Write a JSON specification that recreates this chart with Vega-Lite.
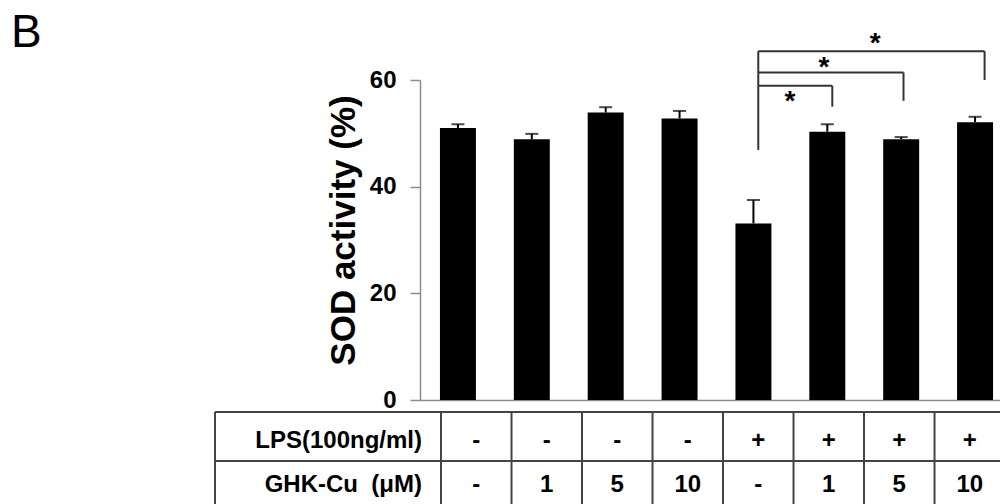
{
  "$schema": "https://vega.github.io/schema/vega-lite/v6.json",
  "width": 593,
  "height": 320,
  "autosize": "none",
  "padding": {"left": 420, "top": 80, "right": 0, "bottom": 104},
  "background": "white",
  "config": {"view": {"stroke": null}, "font": "Liberation Sans"},
  "title": {"text": "B", "anchor": "start", "frame": "group", "fontSize": 46, "fontWeight": "normal", "font": "Liberation Sans", "color": "black", "dx": -409, "dy": 31},
  "datasets": {
    "bars": [
      {"group": 1, "lps": "-", "ghk": "-", "sod": 51.0, "hi": 51.7},
      {"group": 2, "lps": "-", "ghk": "1", "sod": 48.9, "hi": 49.9},
      {"group": 3, "lps": "-", "ghk": "5", "sod": 53.9, "hi": 54.9},
      {"group": 4, "lps": "-", "ghk": "10", "sod": 52.8, "hi": 54.2},
      {"group": 5, "lps": "+", "ghk": "-", "sod": 33.1, "hi": 37.5},
      {"group": 6, "lps": "+", "ghk": "1", "sod": 50.3, "hi": 51.7},
      {"group": 7, "lps": "+", "ghk": "5", "sod": 48.9, "hi": 49.3},
      {"group": 8, "lps": "+", "ghk": "10", "sod": 52.1, "hi": 53.1}
    ],
    "tableLines": [
      {"x": -2.706, "x2": 9.5, "y": -2.25, "y2": -2.25},
      {"x": -2.706, "x2": 9.5, "y": -11.44, "y2": -11.44},
      {"x": -2.706, "x2": -2.706, "y": -2.25, "y2": -25},
      {"x": 0.5, "x2": 0.5, "y": -2.25, "y2": -25},
      {"x": 1.5, "x2": 1.5, "y": -2.25, "y2": -25},
      {"x": 2.5, "x2": 2.5, "y": -2.25, "y2": -25},
      {"x": 3.5, "x2": 3.5, "y": -2.25, "y2": -25},
      {"x": 4.5, "x2": 4.5, "y": -2.25, "y2": -25},
      {"x": 5.5, "x2": 5.5, "y": -2.25, "y2": -25},
      {"x": 6.5, "x2": 6.5, "y": -2.25, "y2": -25},
      {"x": 7.5, "x2": 7.5, "y": -2.25, "y2": -25},
      {"x": 8.5, "x2": 8.5, "y": -2.25, "y2": -25}
    ],
    "brackets": [
      {"x": 5, "x2": 5, "y": 46.9, "y2": 65.4},
      {"x": 5, "x2": 8.21, "y": 65.4, "y2": 65.4},
      {"x": 8.21, "x2": 8.21, "y": 65.4, "y2": 60.0},
      {"x": 5, "x2": 7.06, "y": 61.4, "y2": 61.4},
      {"x": 7.06, "x2": 7.06, "y": 61.4, "y2": 56.1},
      {"x": 5, "x2": 6.05, "y": 58.9, "y2": 58.9},
      {"x": 6.05, "x2": 6.05, "y": 58.9, "y2": 55.0}
    ],
    "stars": [
      {"x": 6.66, "y": 68.1, "label": "*"},
      {"x": 5.93, "y": 63.6, "label": "*"},
      {"x": 5.45, "y": 57.2, "label": "*"}
    ]
  },
  "layer": [
    {
      "data": {"name": "bars"},
      "encoding": {
        "x": {
          "field": "group",
          "type": "nominal",
          "scale": {"paddingInner": 0.513, "paddingOuter": 0.27},
          "axis": {"labels": false, "ticks": false, "title": null, "domainColor": "#8c8c8c", "domainWidth": 1.5}
        }
      },
      "layer": [
        {
          "mark": {"type": "bar", "color": "black"},
          "encoding": {
            "y": {
              "field": "sod",
              "type": "quantitative",
              "scale": {"domain": [0, 60], "nice": false},
              "axis": {
                "values": [0, 20, 40, 60],
                "title": "SOD activity (%)",
                "titleFontSize": 35,
                "titleFontWeight": "bold",
                "titleColor": "black",
                "titlePadding": 8,
                "titleY": 150,
                "labelFontSize": 24,
                "labelFontWeight": "bold",
                "labelColor": "black",
                "labelPadding": 14,
                "tickSize": 10,
                "tickColor": "#8c8c8c",
                "tickWidth": 1.5,
                "domainColor": "#8c8c8c",
                "domainWidth": 1.5,
                "grid": false
              }
            }
          }
        },
        {
          "mark": {"type": "rule", "color": "black", "strokeWidth": 2},
          "encoding": {
            "y": {"field": "sod", "type": "quantitative", "scale": {"domain": [0, 60], "nice": false}},
            "y2": {"field": "hi"}
          }
        },
        {
          "mark": {"type": "tick", "color": "black", "size": 13, "thickness": 2},
          "encoding": {
            "y": {"field": "hi", "type": "quantitative", "scale": {"domain": [0, 60], "nice": false}}
          }
        }
      ]
    },
    {
      "layer": [
        {
          "data": {"name": "bars"},
          "mark": {"type": "text", "fontSize": 24, "fontWeight": "bold", "color": "black", "baseline": "middle"},
          "encoding": {
            "x": {"field": "group", "type": "quantitative", "scale": {"domain": [0.202, 8.613], "nice": false, "zero": false}, "axis": null},
            "y": {"datum": -7.6, "scale": {"domain": [0, 60], "nice": false}},
            "text": {"field": "lps"}
          }
        },
        {
          "data": {"name": "bars"},
          "mark": {"type": "text", "fontSize": 24, "fontWeight": "bold", "color": "black", "baseline": "middle"},
          "encoding": {
            "x": {"field": "group", "type": "quantitative", "scale": {"domain": [0.202, 8.613], "nice": false, "zero": false}, "axis": null},
            "y": {"datum": -15.9, "scale": {"domain": [0, 60], "nice": false}},
            "text": {"field": "ghk"}
          }
        },
        {
          "data": {"values": [{"label": "LPS(100ng/ml)"}]},
          "mark": {"type": "text", "fontSize": 24, "fontWeight": "bold", "color": "black", "baseline": "middle", "align": "right"},
          "encoding": {
            "x": {"datum": 0.23, "type": "quantitative", "scale": {"domain": [0.202, 8.613], "nice": false, "zero": false}, "axis": null},
            "y": {"datum": -7.6, "scale": {"domain": [0, 60], "nice": false}},
            "text": {"field": "label"}
          }
        },
        {
          "data": {"values": [{"label": "GHK-Cu\u00a0\u00a0(μM)"}]},
          "mark": {"type": "text", "fontSize": 24, "fontWeight": "bold", "color": "black", "baseline": "middle", "align": "right"},
          "encoding": {
            "x": {"datum": 0.23, "type": "quantitative", "scale": {"domain": [0.202, 8.613], "nice": false, "zero": false}, "axis": null},
            "y": {"datum": -15.9, "scale": {"domain": [0, 60], "nice": false}},
            "text": {"field": "label"}
          }
        },
        {
          "data": {"name": "tableLines"},
          "mark": {"type": "rule", "color": "#444444", "strokeWidth": 2},
          "encoding": {
            "x": {"field": "x", "type": "quantitative", "scale": {"domain": [0.202, 8.613], "nice": false, "zero": false}, "axis": null},
            "x2": {"field": "x2"},
            "y": {"field": "y", "type": "quantitative", "scale": {"domain": [0, 60], "nice": false}},
            "y2": {"field": "y2"}
          }
        },
        {
          "data": {"name": "brackets"},
          "mark": {"type": "rule", "color": "#333333", "strokeWidth": 2},
          "encoding": {
            "x": {"field": "x", "type": "quantitative", "scale": {"domain": [0.202, 8.613], "nice": false, "zero": false}, "axis": null},
            "x2": {"field": "x2"},
            "y": {"field": "y", "type": "quantitative", "scale": {"domain": [0, 60], "nice": false}},
            "y2": {"field": "y2"}
          }
        },
        {
          "data": {"name": "stars"},
          "mark": {"type": "text", "fontSize": 28, "fontWeight": "bold", "color": "black", "baseline": "middle", "dy": 7},
          "encoding": {
            "x": {"field": "x", "type": "quantitative", "scale": {"domain": [0.202, 8.613], "nice": false, "zero": false}, "axis": null},
            "y": {"field": "y", "type": "quantitative", "scale": {"domain": [0, 60], "nice": false}},
            "text": {"field": "label"}
          }
        }
      ]
    }
  ],
  "resolve": {"scale": {"x": "independent"}}
}
